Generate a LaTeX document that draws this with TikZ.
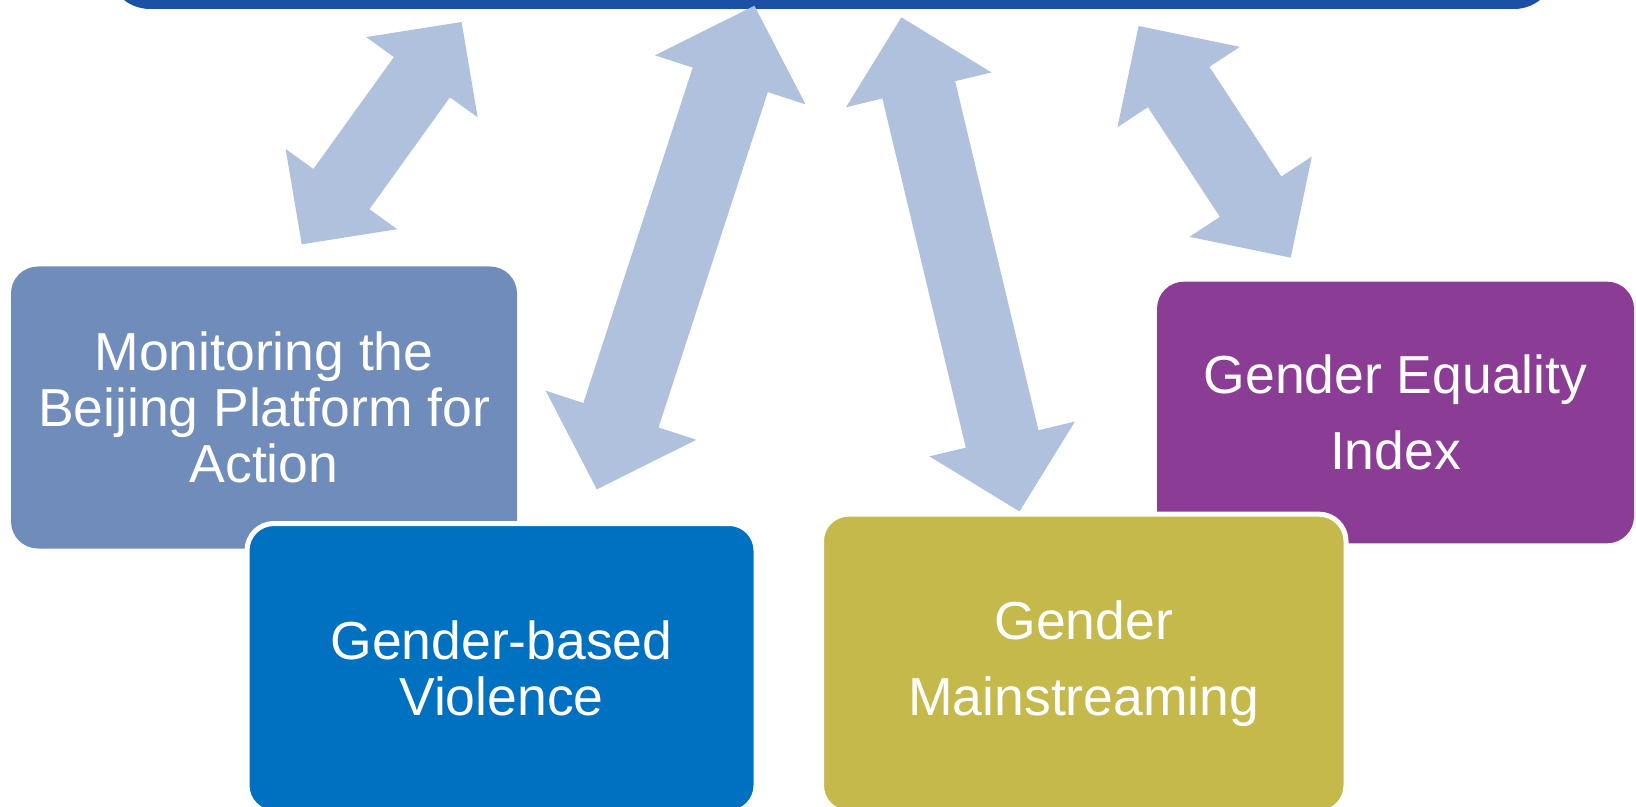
\documentclass[tikz,border=0pt]{standalone}
\usepackage{fontspec}
\setmainfont{Liberation Sans}
\usepackage{tikz}
\usepackage{xcolor}
\usetikzlibrary{positioning, arrows.meta}

\definecolor{barblue}{RGB}{28,80,165}
\definecolor{slateblue}{RGB}{112,140,187}
\definecolor{brightblue}{RGB}{0,112,192}
\definecolor{olivebox}{RGB}{196,185,74}
\definecolor{plumbox}{RGB}{139,61,150}
\definecolor{arrowblue}{RGB}{176,193,221}

\begin{document}
\begin{tikzpicture}[x=0.5pt, y=-0.5pt,
        box/.style={rounded corners=13.5pt, text=white, align=center, inner sep=0pt,
                    font=\fontsize{26.75}{28}\selectfont},
        spacedbox/.style={box, font=\fontsize{26.75}{38}\selectfont},
        whiteedge/.style={draw=white, line width=2.5pt},
        dblarrow/.style n args={3}{draw=arrowblue, line width=#1,
                    arrows={Triangle[length=#3,width=#2,line width=1pt]-Triangle[length=#3,width=#2,line width=1pt]}}]
                % Page frame (top bar runs off the page)
                \useasboundingbox (0,0) rectangle (1636,807);
                \clip (0,0) rectangle (1636,807);

                % Top bar
                \node[fill=barblue, rounded corners=21pt, inner sep=0pt,
                      minimum width=724pt, minimum height=54.5pt] (bar) at (832,-45.5) {};

                % Ends of the double arrows
                \coordinate (aTop) at (461.6,22);
                \coordinate (aBot) at (301.7,244.3);
                \coordinate (bTop) at (754.4,5.7);
                \coordinate (bBot) at (596.8,489.4);
                \coordinate (cTop) at (901.4,17.3);
                \coordinate (cBot) at (1019.5,511.5);
                \coordinate (dTop) at (1138.6,26);
                \coordinate (dBot) at (1290.7,257.7);

                % Double arrows between the bar and the boxes
                % \draw[dblarrow={shaft}{head width}{head length}] (from) -- (to);
                \draw[dblarrow={34.5pt}{68.5pt}{34pt}] (aBot) -- (aTop);
                \draw[dblarrow={39.5pt}{79pt}{39pt}] (bBot) -- (bTop);
                \draw[dblarrow={37.4pt}{74.6pt}{37.3pt}] (cBot) -- (cTop);
                \draw[dblarrow={36.8pt}{73pt}{36.5pt}] (dBot) -- (dTop);

                % Boxes, back ones first
                \node[box, fill=slateblue, minimum width=253pt, minimum height=141pt]
                      (monitor) at (264,407.5) {Monitoring the\\Beijing Platform for\\Action};
                \node[box, fill=brightblue, whiteedge, minimum width=254.5pt, minimum height=144.5pt]
                      (violence) at (501.5,668) {Gender-based\\Violence};
                \node[spacedbox, fill=plumbox, minimum width=238.5pt, minimum height=130.8pt]
                      (index) at (1395.5,412.5) {Gender Equality\\Index};
                \node[spacedbox, fill=olivebox, whiteedge, minimum width=262.25pt, minimum height=149.15pt]
                      (mainstream) at (1083.75,663.35) {Gender\\Mainstreaming};
            \end{tikzpicture}
\end{document}
